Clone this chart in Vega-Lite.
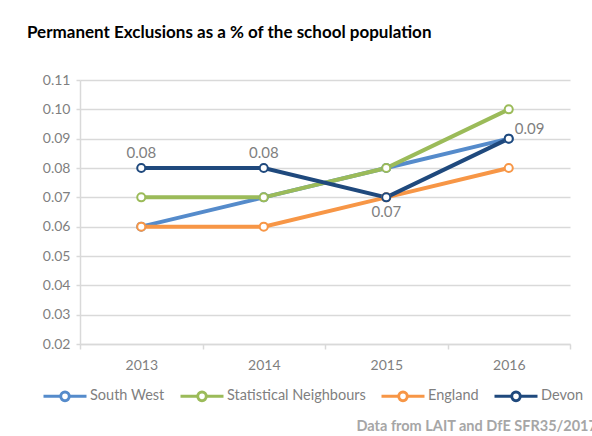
{
  "$schema": "https://vega.github.io/schema/vega-lite/v6.json",
  "autosize": {"type": "none"},
  "width": 490,
  "height": 264,
  "padding": {"left": 80, "top": 80, "right": 22, "bottom": 92},
  "background": "white",
  "config": {
    "view": {"stroke": null},
    "font": "Lato"
  },
  "title": {
    "text": "Permanent Exclusions as a % of the school population",
    "anchor": "start",
    "frame": "group",
    "dx": -53,
    "offset": 31,
    "font": "Lato",
    "fontSize": 17,
    "fontWeight": "bold",
    "color": "#000000"
  },
  "data": {
    "values": [
      {"year": "2013", "series": "South West", "value": 0.06},
      {"year": "2014", "series": "South West", "value": 0.07},
      {"year": "2015", "series": "South West", "value": 0.08},
      {"year": "2016", "series": "South West", "value": 0.09},
      {"year": "2013", "series": "Statistical Neighbours", "value": 0.07},
      {"year": "2014", "series": "Statistical Neighbours", "value": 0.07},
      {"year": "2015", "series": "Statistical Neighbours", "value": 0.08},
      {"year": "2016", "series": "Statistical Neighbours", "value": 0.10},
      {"year": "2013", "series": "England", "value": 0.06},
      {"year": "2014", "series": "England", "value": 0.06},
      {"year": "2015", "series": "England", "value": 0.07},
      {"year": "2016", "series": "England", "value": 0.08},
      {"year": "2013", "series": "Devon", "value": 0.08},
      {"year": "2014", "series": "Devon", "value": 0.08},
      {"year": "2015", "series": "Devon", "value": 0.07},
      {"year": "2016", "series": "Devon", "value": 0.09}
    ]
  },
  "encoding": {
    "x": {
      "field": "year",
      "type": "ordinal",
      "scale": {"type": "band", "paddingInner": 0, "paddingOuter": 0},
      "axis": {
        "labelAngle": 0,
        "labelColor": "#7F7F7F",
        "labelFontSize": 14,
        "labelPadding": 9,
        "domainColor": "#D9D9D9",
        "domainWidth": 1.5,
        "tickColor": "#D9D9D9",
        "tickWidth": 1.5,
        "tickSize": 5,
        "tickBand": "extent",
        "title": "Data from LAIT and DfE SFR35/2017",
        "titleAnchor": "start",
        "titleAlign": "left",
        "titleX": 276,
        "titleY": 86,
        "titleBaseline": "alphabetic",
        "titleColor": "#A6A6A6",
        "titleFontSize": 14.5,
        "titleFontWeight": "bold"
      }
    },
    "y": {
      "field": "value",
      "type": "quantitative",
      "scale": {"domain": [0.02, 0.11], "nice": false, "zero": false},
      "axis": {
        "values": [0.02, 0.03, 0.04, 0.05, 0.06, 0.07, 0.08, 0.09, 0.10, 0.11],
        "format": ".2f",
        "title": null,
        "labelColor": "#7F7F7F",
        "labelFontSize": 14,
        "labelPadding": 6,
        "domainColor": "#D9D9D9",
        "domainWidth": 1.5,
        "tickColor": "#D9D9D9",
        "tickWidth": 1.5,
        "tickSize": 4,
        "gridColor": "#D9D9D9",
        "gridWidth": 1.5
      }
    },
    "color": {
      "field": "series",
      "type": "nominal",
      "scale": {
        "domain": ["South West", "Statistical Neighbours", "England", "Devon"],
        "range": ["#558BCB", "#9BBB59", "#F79646", "#1F497D"]
      },
      "legend": {
        "title": null,
        "orient": "none",
        "direction": "horizontal",
        "legendX": -38,
        "legendY": 293,
        "symbolType": "M-1,0L-0.2,0M0.2,0L1,0M-0.2,0A0.2,0.2 0 1,0 0.2,0A0.2,0.2 0 1,0 -0.2,0Z",
        "symbolSize": 1849,
        "symbolStrokeWidth": 3,
        "symbolFillColor": "white",
        "labelColor": "#7F7F7F",
        "labelFontSize": 14.5,
        "labelOffset": 2,
        "columnPadding": 9
      }
    }
  },
  "layer": [
    {
      "mark": {"type": "line", "strokeWidth": 4}
    },
    {
      "mark": {"type": "point", "filled": false, "fill": "white", "strokeWidth": 2, "size": 65, "opacity": 1}
    },
    {
      "transform": [{"filter": "datum.series == 'Devon' && (datum.year == '2013' || datum.year == '2014')"}],
      "mark": {"type": "text", "dy": -15, "fontSize": 15},
      "encoding": {"text": {"field": "value", "type": "quantitative", "format": ".2f"}, "color": {"value": "#7F7F7F"}}
    },
    {
      "transform": [{"filter": "datum.series == 'Devon' && datum.year == '2015'"}],
      "mark": {"type": "text", "dy": 15, "fontSize": 15},
      "encoding": {"text": {"field": "value", "type": "quantitative", "format": ".2f"}, "color": {"value": "#7F7F7F"}}
    },
    {
      "transform": [{"filter": "datum.series == 'Devon' && datum.year == '2016'"}],
      "mark": {"type": "text", "dx": 6, "dy": -10, "align": "left", "fontSize": 15},
      "encoding": {"text": {"field": "value", "type": "quantitative", "format": ".2f"}, "color": {"value": "#7F7F7F"}}
    }
  ]
}
